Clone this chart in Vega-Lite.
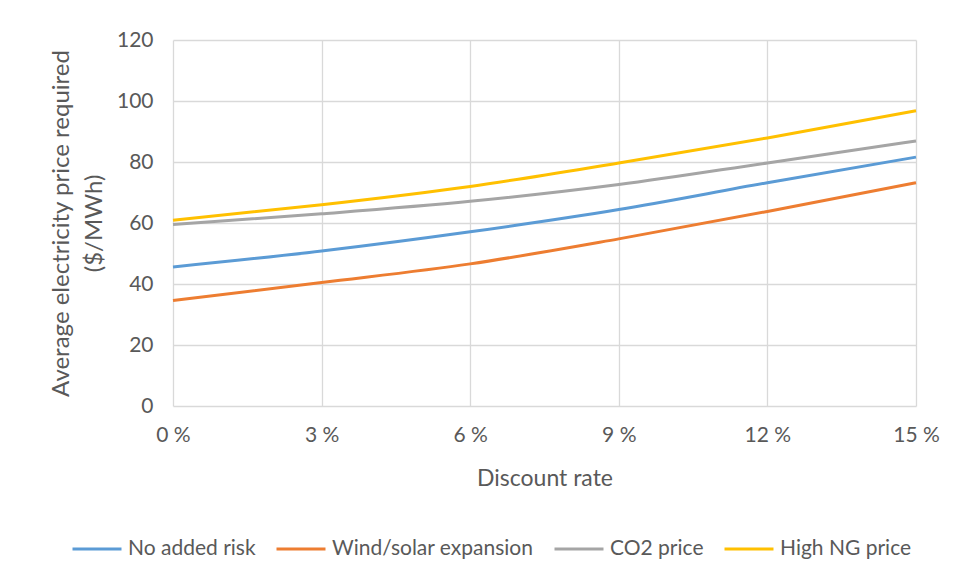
{
  "$schema": "https://vega.github.io/schema/vega-lite/v6.json",
  "width": 743,
  "height": 366,
  "padding": {"left": 49, "top": 29, "right": 21, "bottom": 23},
  "background": "white",
  "config": {
    "font": "Lato",
    "view": {"stroke": null},
    "axis": {"labelColor": "#595959", "titleColor": "#595959", "titleFontWeight": "normal", "gridColor": "#d9d9d9", "gridWidth": 1.3, "domain": false, "ticks": false},
    "legend": {"labelColor": "#595959"}
  },
  "data": {
    "values": [
      {"rate": 0, "price": 45.6, "series": "No added risk"},
      {"rate": 3, "price": 50.8, "series": "No added risk"},
      {"rate": 6, "price": 57.1, "series": "No added risk"},
      {"rate": 9, "price": 64.4, "series": "No added risk"},
      {"rate": 12, "price": 73.2, "series": "No added risk"},
      {"rate": 15, "price": 81.6, "series": "No added risk"},
      {"rate": 0, "price": 34.6, "series": "Wind/solar expansion"},
      {"rate": 3, "price": 40.5, "series": "Wind/solar expansion"},
      {"rate": 6, "price": 46.6, "series": "Wind/solar expansion"},
      {"rate": 9, "price": 54.8, "series": "Wind/solar expansion"},
      {"rate": 12, "price": 63.8, "series": "Wind/solar expansion"},
      {"rate": 15, "price": 73.2, "series": "Wind/solar expansion"},
      {"rate": 0, "price": 59.5, "series": "CO2 price"},
      {"rate": 3, "price": 63.0, "series": "CO2 price"},
      {"rate": 6, "price": 67.1, "series": "CO2 price"},
      {"rate": 9, "price": 72.6, "series": "CO2 price"},
      {"rate": 12, "price": 79.7, "series": "CO2 price"},
      {"rate": 15, "price": 86.9, "series": "CO2 price"},
      {"rate": 0, "price": 60.9, "series": "High NG price"},
      {"rate": 3, "price": 66.0, "series": "High NG price"},
      {"rate": 6, "price": 72.0, "series": "High NG price"},
      {"rate": 9, "price": 79.7, "series": "High NG price"},
      {"rate": 12, "price": 87.9, "series": "High NG price"},
      {"rate": 15, "price": 96.8, "series": "High NG price"}
    ]
  },
  "mark": {"type": "line", "strokeWidth": 3, "interpolate": "monotone"},
  "encoding": {
    "x": {
      "field": "rate", "type": "quantitative",
      "scale": {"domain": [0, 15], "nice": false},
      "axis": {"values": [0, 3, 6, 9, 12, 15], "labelExpr": "datum.value + ' %'", "title": "Discount rate", "labelFontSize": 21, "titleFontSize": 23, "labelPadding": 18, "titlePadding": 22, "labelFlush": false}
    },
    "y": {
      "field": "price", "type": "quantitative",
      "scale": {"domain": [0, 120], "nice": false},
      "axis": {"values": [0, 20, 40, 60, 80, 100, 120], "title": ["Average electricity price required", "($/MWh)"], "labelFontSize": 21, "titleFontSize": 24, "titleLineHeight": 33, "labelPadding": 20, "titlePadding": 10}
    },
    "color": {
      "field": "series", "type": "nominal",
      "scale": {"domain": ["No added risk", "Wind/solar expansion", "CO2 price", "High NG price"], "range": ["#5B9BD5", "#ED7D31", "#A5A5A5", "#FFC000"]},
      "legend": {"orient": "none", "legendX": -102, "legendY": 483, "direction": "horizontal", "title": null, "symbolType": "stroke", "symbolStrokeWidth": 3, "symbolSize": 2400, "labelFontSize": 21, "labelLimit": 0, "labelOffset": 5, "columnPadding": 14}
    }
  }
}
